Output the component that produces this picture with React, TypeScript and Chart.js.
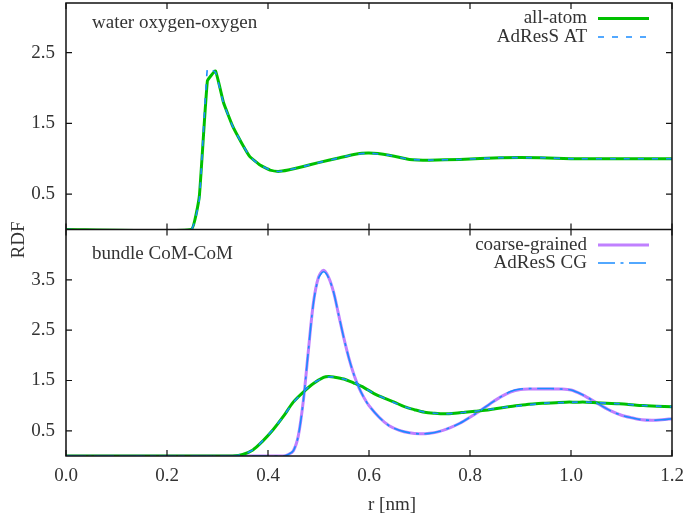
import React, { useEffect, useRef } from "react";
import { Chart, registerables } from "chart.js";
Chart.register(...registerables);

// water oxygen-oxygen RDF
const waterR = [0, 0.248, 0.264, 0.28, 0.296, 0.312, 0.33, 0.348, 0.364, 0.384, 0.404, 0.42, 0.44, 0.47, 0.5, 0.54, 0.57, 0.6, 0.64, 0.68, 0.72, 0.78, 0.86, 0.94, 1.0, 1.08, 1.2];
const waterAA = [0, 0, 0.47, 2.1, 2.24, 1.79, 1.46, 1.22, 1.03, 0.91, 0.84, 0.82, 0.84, 0.89, 0.945, 1.01, 1.06, 1.08, 1.05, 0.99, 0.98, 0.99, 1.015, 1.015, 1.0, 1.0, 1.0];
const waterAT = [0, 0, 0.42, 2.28, 2.22, 1.78, 1.46, 1.22, 1.03, 0.91, 0.84, 0.82, 0.84, 0.89, 0.945, 1.01, 1.06, 1.08, 1.05, 0.99, 0.98, 0.99, 1.015, 1.015, 1.0, 1.0, 1.0];

// bundle CoM-CoM RDF, all-atom / AdResS AT
const bundleR = [0, 0.3, 0.33, 0.35, 0.37, 0.39, 0.41, 0.43, 0.45, 0.47, 0.49, 0.51, 0.52, 0.53, 0.55, 0.57, 0.59, 0.61, 0.63, 0.65, 0.67, 0.69, 0.71, 0.73, 0.75, 0.77, 0.79, 0.81, 0.83, 0.85, 0.87, 0.89, 0.91, 0.93, 0.95, 0.97, 0.99, 1.01, 1.03, 1.05, 1.07, 1.09, 1.11, 1.13, 1.15, 1.17, 1.2];
const bundleAA = [0, 0, 0, 0.03, 0.12, 0.3, 0.52, 0.78, 1.07, 1.27, 1.44, 1.56, 1.58, 1.57, 1.53, 1.45, 1.36, 1.24, 1.15, 1.07, 0.98, 0.92, 0.87, 0.85, 0.84, 0.85, 0.87, 0.89, 0.91, 0.94, 0.97, 1.0, 1.02, 1.04, 1.05, 1.06, 1.07, 1.07, 1.07, 1.06, 1.05, 1.04, 1.03, 1.01, 1.0, 0.99, 0.98];
const bundleAT = [0, 0, 0, 0.03, 0.12, 0.31, 0.53, 0.78, 1.06, 1.27, 1.45, 1.55, 1.57, 1.57, 1.53, 1.46, 1.36, 1.24, 1.15, 1.06, 0.98, 0.92, 0.87, 0.85, 0.84, 0.85, 0.87, 0.89, 0.92, 0.94, 0.97, 0.99, 1.01, 1.03, 1.05, 1.06, 1.06, 1.07, 1.07, 1.06, 1.05, 1.04, 1.03, 1.01, 1.0, 0.99, 0.98];

// bundle CoM-CoM RDF, coarse-grained / AdResS CG
const cgR = [0, 0.4, 0.43, 0.44, 0.45, 0.46, 0.47, 0.48, 0.49, 0.5, 0.51, 0.52, 0.53, 0.54, 0.55, 0.56, 0.57, 0.58, 0.59, 0.6, 0.62, 0.64, 0.66, 0.68, 0.7, 0.72, 0.74, 0.76, 0.78, 0.8, 0.82, 0.84, 0.86, 0.88, 0.9, 0.92, 0.94, 0.96, 0.98, 1.0, 1.02, 1.04, 1.06, 1.08, 1.1, 1.12, 1.14, 1.16, 1.18, 1.2];
const bundleCG = [0, 0, 0, 0.03, 0.1, 0.4, 1.1, 2.1, 3.05, 3.55, 3.69, 3.55, 3.25, 2.8, 2.35, 1.95, 1.62, 1.36, 1.16, 1.0, 0.77, 0.6, 0.51, 0.46, 0.44, 0.45, 0.49, 0.56, 0.65, 0.77, 0.9, 1.04, 1.17, 1.27, 1.32, 1.33, 1.33, 1.33, 1.33, 1.31, 1.23, 1.12, 1.0, 0.89, 0.81, 0.76, 0.72, 0.71, 0.72, 0.74];
const bundleAdCG = [0, 0, 0, 0.03, 0.1, 0.4, 1.1, 2.1, 3.04, 3.53, 3.66, 3.54, 3.25, 2.8, 2.35, 1.95, 1.62, 1.36, 1.16, 1.0, 0.77, 0.6, 0.51, 0.46, 0.44, 0.45, 0.49, 0.56, 0.65, 0.77, 0.9, 1.04, 1.17, 1.28, 1.33, 1.34, 1.34, 1.34, 1.33, 1.31, 1.23, 1.12, 1.0, 0.89, 0.81, 0.76, 0.72, 0.71, 0.72, 0.74];

const xTicks = [0, 0.2, 0.4, 0.6, 0.8, 1.0, 1.2];
const topTicks = [0.5, 1.5, 2.5];
const botTicks = [0.5, 1.5, 2.5, 3.5];

const GREEN = "#00c000";
const PURPLE = "#c080ff";
const BLUE = "#1a8cff";
const FONT = '"Liberation Serif", "Times New Roman", serif';
const TEXT = "#333333";

const pts = (xs: number[], ys: number[]) => xs.map((x, i) => ({ x, y: ys[i] }));

const noPad = (s: any) => {
  s.paddingTop = 0;
  s.paddingBottom = 0;
  s.paddingLeft = 0;
  s.paddingRight = 0;
};

export default function App() {
  const ref = useRef<HTMLCanvasElement | null>(null);
  useEffect(() => {
    document.body.style.margin = "0";
    const canvas = ref.current;
    if (!canvas) return;

    const decor = {
      id: "decor",
      afterDatasetsDraw(chart: any) {
        const ctx = chart.ctx;
        const a = chart.chartArea;
        const x = chart.scales.x;
        const yT = chart.scales.yTop;
        const yB = chart.scales.yBot;
        const mid = yT.bottom;
        ctx.save();
        // frame
        ctx.strokeStyle = "#111";
        ctx.lineWidth = 1.5;
        ctx.setLineDash([]);
        ctx.strokeRect(a.left, a.top, a.right - a.left, a.bottom - a.top);
        ctx.beginPath();
        ctx.moveTo(a.left, mid);
        ctx.lineTo(a.right, mid);
        ctx.stroke();
        // ticks
        const tl = 6;
        ctx.lineWidth = 1.2;
        ctx.beginPath();
        xTicks.forEach((v) => {
          const px = x.getPixelForValue(v);
          ctx.moveTo(px, a.bottom);
          ctx.lineTo(px, a.bottom - tl);
          ctx.moveTo(px, mid - tl);
          ctx.lineTo(px, mid + tl);
          ctx.moveTo(px, a.top);
          ctx.lineTo(px, a.top + tl);
        });
        topTicks.forEach((v) => {
          const py = yT.getPixelForValue(v);
          ctx.moveTo(a.left, py);
          ctx.lineTo(a.left + tl, py);
          ctx.moveTo(a.right, py);
          ctx.lineTo(a.right - tl, py);
        });
        botTicks.forEach((v) => {
          const py = yB.getPixelForValue(v);
          ctx.moveTo(a.left, py);
          ctx.lineTo(a.left + tl, py);
          ctx.moveTo(a.right, py);
          ctx.lineTo(a.right - tl, py);
        });
        ctx.stroke();

        // texts
        ctx.fillStyle = TEXT;
        ctx.font = `19px ${FONT}`;
        ctx.textBaseline = "alphabetic";
        ctx.textAlign = "left";
        ctx.fillText("water oxygen-oxygen", 92, 28);
        ctx.fillText("bundle CoM-CoM", 92, 259);

        const legend = (label: string, y: number, color: string, width: number, dash: number[]) => {
          ctx.textAlign = "right";
          ctx.fillStyle = TEXT;
          ctx.fillText(label, 587, y + 4.5);
          ctx.strokeStyle = color;
          ctx.lineWidth = width;
          ctx.setLineDash(dash);
          ctx.beginPath();
          ctx.moveTo(598, y);
          ctx.lineTo(649, y);
          ctx.stroke();
          ctx.setLineDash([]);
        };
        legend("all-atom", 18.5, GREEN, 3, []);
        legend("AdResS AT", 37, BLUE, 1.6, [6, 8]);
        legend("coarse-grained", 245, PURPLE, 3, []);
        legend("AdResS CG", 263, BLUE, 1.6, [17, 5.5, 3, 5.5]);

        ctx.textAlign = "center";
        ctx.fillStyle = TEXT;
        ctx.fillText("r [nm]", 392, 510);
        ctx.save();
        ctx.translate(24, 240);
        ctx.rotate(-Math.PI / 2);
        ctx.fillText("RDF", 0, 0);
        ctx.restore();
        ctx.restore();
      },
    };

    const yCommon = (min: number, max: number, ticks: number[]) => ({
      type: "linear" as const,
      position: "left" as const,
      stack: "panels",
      stackWeight: 1,
      min,
      max,
      grid: { display: false, drawTicks: false },
      border: { display: false },
      afterBuildTicks: (s: any) => {
        s.ticks = ticks.map((v) => ({ value: v }));
      },
      afterFit: (s: any) => {
        s.width = 66;
        noPad(s);
      },
      ticks: {
        padding: 11,
        color: TEXT,
        font: { family: FONT, size: 19 },
        callback: (v: any) => Number(v).toFixed(1),
      },
    });

    const chart = new Chart(canvas, {
      type: "line",
      data: {
        datasets: [
          {
            label: "AdResS AT water",
            data: pts(waterR, waterAT),
            xAxisID: "x",
            yAxisID: "yTop",
            borderColor: BLUE,
            borderWidth: 1.6,
            borderDash: [6, 8],
            pointRadius: 0,
            tension: 0.1,
            order: 1,
          },
          {
            label: "all-atom water",
            data: pts(waterR, waterAA),
            xAxisID: "x",
            yAxisID: "yTop",
            borderColor: GREEN,
            borderWidth: 3,
            pointRadius: 0,
            tension: 0.1,
            order: 2,
          },
          {
            label: "AdResS AT bundle",
            data: pts(bundleR, bundleAT),
            xAxisID: "x",
            yAxisID: "yBot",
            borderColor: BLUE,
            borderWidth: 1.6,
            borderDash: [6, 8],
            pointRadius: 0,
            order: 1,
          },
          {
            label: "all-atom bundle",
            data: pts(bundleR, bundleAA),
            xAxisID: "x",
            yAxisID: "yBot",
            borderColor: GREEN,
            borderWidth: 3,
            pointRadius: 0,
            order: 2,
          },
          {
            label: "AdResS CG",
            data: pts(cgR, bundleAdCG),
            xAxisID: "x",
            yAxisID: "yBot",
            borderColor: BLUE,
            borderWidth: 1.6,
            borderDash: [17, 5.5, 3, 5.5],
            pointRadius: 0,
            order: 1,
          },
          {
            label: "coarse-grained",
            data: pts(cgR, bundleCG),
            xAxisID: "x",
            yAxisID: "yBot",
            borderColor: PURPLE,
            borderWidth: 3,
            pointRadius: 0,
            order: 2,
          },
        ],
      },
      options: {
        responsive: false,
        animation: false,
        devicePixelRatio: 1,
        parsing: false as any,
        layout: { padding: { top: 3, right: 11, left: 0, bottom: 0 } },
        plugins: { legend: { display: false }, tooltip: { enabled: false } },
        elements: { line: { tension: 0.3, borderCapStyle: "butt", borderJoinStyle: "round" } },
        scales: {
          x: {
            type: "linear",
            position: "bottom",
            min: 0,
            max: 1.2,
            grid: { display: false, drawTicks: false },
            border: { display: false },
            afterBuildTicks: (s: any) => {
              s.ticks = xTicks.map((v) => ({ value: v }));
            },
            afterFit: (s: any) => {
              s.height = 66;
              noPad(s);
            },
            ticks: {
              padding: 9,
              color: TEXT,
              font: { family: FONT, size: 19 },
              maxRotation: 0,
              callback: (v: any) => Number(v).toFixed(1),
            },
          },
          yBot: yCommon(0, 4.5, botTicks),
          yTop: yCommon(0, 3.2, topTicks),
        } as any,
      },
      plugins: [decor],
    });
    return () => chart.destroy();
  }, []);
  return (
    <div style={{ width: 683, height: 522 }}>
      <canvas ref={ref} width={683} height={522} style={{ display: "block" }} />
    </div>
  );
}
